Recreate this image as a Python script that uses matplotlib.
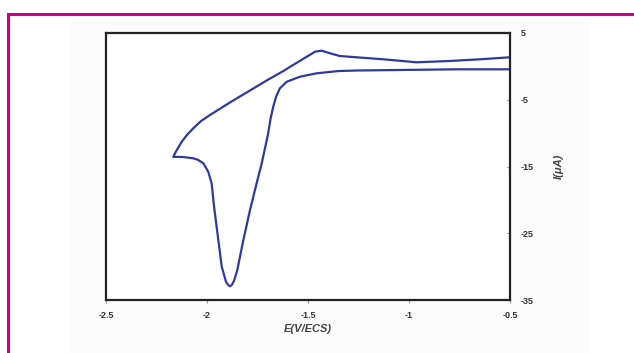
import matplotlib.pyplot as plt
from matplotlib.lines import Line2D
from matplotlib.patches import Rectangle

# forward scan (from -0.5 V going negative), lower branch with reduction peak
E_fwd = [-0.5, -0.649, -0.764, -1.259, -1.350, -1.457, -1.540, -1.605, -1.639, -1.658,
         -1.672, -1.685, -1.697, -1.704, -1.729, -1.754, -1.787, -1.820, -1.850, -1.866,
         -1.877, -1.886, -1.895, -1.906, -1.927, -1.944, -1.965, -1.977, -1.994, -2.018,
         -2.045, -2.068, -2.119, -2.167]
I_fwd = [-0.44, -0.44, -0.44, -0.62, -0.70, -1.04, -1.55, -2.30, -3.28, -4.54,
         -6.04, -7.78, -10.0, -11.03, -14.52, -17.47, -21.52, -26.01, -30.51, -32.1,
         -32.75, -32.95, -32.75, -32.26, -30.01, -26.01, -21.02, -17.52, -15.78, -14.52,
         -14.0, -13.77, -13.58, -13.55]

# reverse scan (from vertex back to -0.5 V), upper branch
E_rev = [-2.167, -2.158, -2.145, -2.125, -2.100, -2.068, -2.030, -1.985, -1.886, -1.770,
         -1.704, -1.622, -1.589, -1.506, -1.465, -1.432, -1.391, -1.342, -1.259, -1.127,
         -0.962, -0.797, -0.649, -0.5]
I_rev = [-13.55, -13.0, -12.3, -11.3, -10.3, -9.28, -8.2, -7.28, -5.40, -3.30,
         -2.10, -0.70, -0.07, 1.45, 2.20, 2.35, 1.96, 1.55, 1.36, 1.06,
         0.61, 0.81, 1.06, 1.36]

x_ticks = [-2.5, -2, -1.5, -1, -0.5]
x_labels = ["-2.5", "-2", "-1.5", "-1", "-0.5"]
y_ticks = [5, -5, -15, -25, -35]
y_labels = ["5", "-5", "-15", "-25", "-35"]

plt.rcParams['font.family'] = ['Liberation Sans', 'DejaVu Sans']

fig = plt.figure(figsize=(6.34, 3.53), dpi=100)

# pasted-image background and magenta frame
fig.patches.append(Rectangle((70 / 634, 0), (588 - 70) / 634, (353 - 22) / 353,
                             transform=fig.transFigure, color="#fbfbfb", zorder=-5))
magenta = "#c8008c"
fig.lines.append(Line2D([8 / 634, 1], [1 - 14 / 353, 1 - 14 / 353], transform=fig.transFigure,
                        color=magenta, lw=2.2, zorder=-4))
fig.lines.append(Line2D([8 / 634, 8 / 634], [0, 1 - 14 / 353], transform=fig.transFigure,
                        color=magenta, lw=2.2, zorder=-4))

ax = fig.add_axes([106 / 634, 1 - 300 / 353, (510 - 106) / 634, (300 - 33) / 353])
ax.set_facecolor("white")

curve_color = "#2f3b9c"
ax.plot(E_fwd + E_rev, I_fwd + I_rev, color=curve_color, lw=1.6,
        solid_joinstyle="round", solid_capstyle="round")

ax.set_xlim(-2.5, -0.5)
ax.set_ylim(-35, 5)

for s in ax.spines.values():
    s.set_linewidth(1.6)
    s.set_color("#222222")

ax.set_xticks(x_ticks)
ax.set_xticklabels(x_labels)
ax.set_yticks(y_ticks)
ax.set_yticklabels(y_labels)
ax.yaxis.tick_right()
ax.yaxis.set_label_position("right")
ax.tick_params(axis="x", direction="out", length=2, width=0.8, color="#999999",
               labelsize=6.5, labelcolor="#333333", pad=6)
ax.tick_params(axis="y", direction="in", length=2, width=0.8, color="#999999",
               labelsize=6.5, labelcolor="#333333", pad=8)
for lab in ax.get_xticklabels() + ax.get_yticklabels():
    lab.set_fontweight("bold")

ax.set_xlabel("E(V/ECS)", fontsize=8, style="italic", fontweight="bold", color="#444444", labelpad=3)
ax.set_ylabel("I(μA)", fontsize=8, style="italic", fontweight="bold", color="#444444", labelpad=14)

fig.savefig("out.png", dpi=100)
